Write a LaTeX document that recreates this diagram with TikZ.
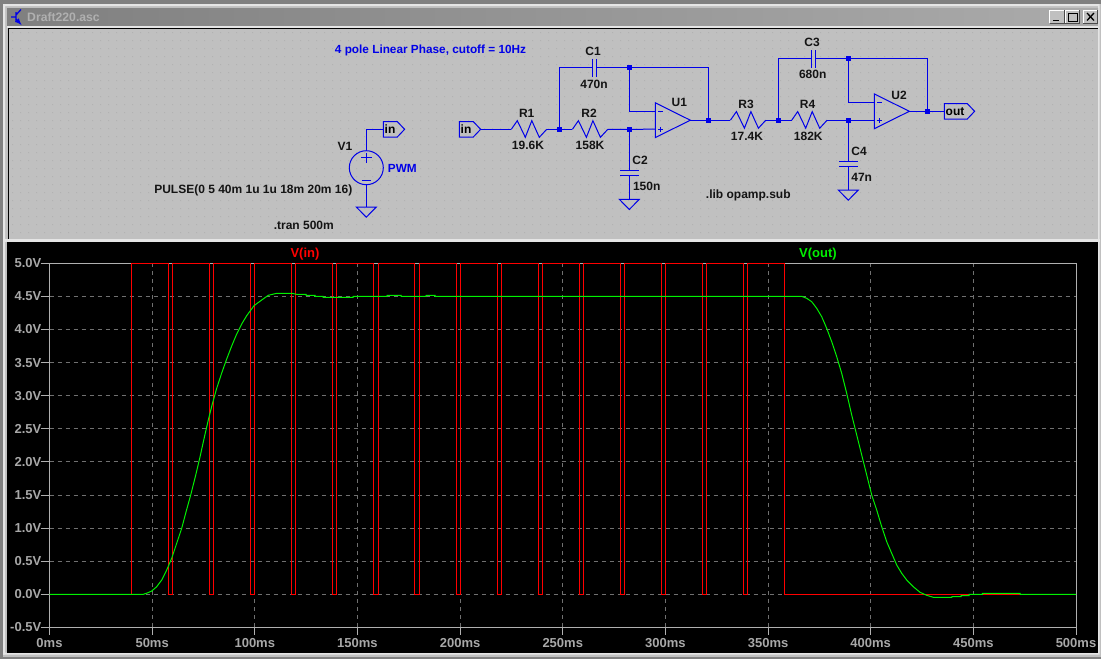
\documentclass[tikz,border=0pt]{standalone}
\usepackage{fontspec}
\setmainfont{Liberation Sans}
\usetikzlibrary{arrows}
\definecolor{wirecol}{HTML}{0000E8}
\definecolor{panel}{HTML}{C0C0C0}
\definecolor{framecol}{HTML}{B0B0B0}
\definecolor{axtext}{HTML}{A8A8A8}
\definecolor{gridcol}{HTML}{707070}
\definecolor{vincol}{HTML}{FF0000}
\definecolor{voutcol}{HTML}{00F000}
\tikzset{
  wire/.style={draw=wirecol,line width=1pt},
  dot/.style={fill=wirecol,draw=none,inner sep=0pt,minimum size=4.6pt},
  lab/.style={font=\fontsize{12}{12}\selectfont\bfseries,text=black!92,inner sep=0pt},
  note/.style={font=\fontsize{11.8}{12}\selectfont\bfseries,text=wirecol,inner sep=0pt},
  axlab/.style={font=\fontsize{13}{13}\selectfont\bfseries,text=axtext,inner sep=0pt},
  gridline/.style={draw=gridcol,line width=1pt,dash pattern=on 4pt off 4pt},
  pics/res/.style={code={
    \coordinate (-l) at (0,0);
    \coordinate (-r) at (35.4,0);
    \draw[wire] (-l) -- (6,-8.6) -- (14,8) -- (20.5,-8.6) -- (28,8) -- (-r);
  }},
  pics/gnd/.style={code={
    \draw[wire] (-10,0) -- (10,0) -- (0,10.2) -- cycle;
  }},
  pics/opamp/.style={code={
    \coordinate (-m) at (0,-9);
    \coordinate (-p) at (0,9);
    \coordinate (-o) at (35,0);
    \draw[wire] (0,-17.4) -- (-o) -- (0,17.4) -- cycle;
    \draw[wire,line width=.7pt] (3,-9) -- (7.5,-9) (3,9) -- (7.5,9) (5.25,6.7) -- (5.25,11.3);
  }},
  pics/flag/.style={code={
    \coordinate (-l) at (0,0);
    \draw[wire] (-l) -- (0,-7.7) -- (#1,-7.7) -- (#1+7.3,0) -- (#1,7.7) -- (0,7.7) -- cycle;
  }},
  pics/cap/.style={code={
    \draw[wire] (-1.9,-8.7) -- (-1.9,9) (2.1,-8.7) -- (2.1,9);
  }},
  pics/winbtn/.style={code={
    \fill[panel] (0,0) rectangle (14.6,13.4);
    \draw[white,line width=1pt] (0,13.4) -- (0,0) -- (14.6,0);
    \draw[black!70,line width=1pt] (0,13.4) -- (14.6,13.4) -- (14.6,0);
  }}
}
\begin{document}
\begin{tikzpicture}[x=1pt,y=-1pt]
  \useasboundingbox (0,0) rectangle (1101,659);
  % window frame
  \fill[panel] (0,0) rectangle (1101,659);
  \fill[black!50] (0,0) rectangle (1101,4);
  \fill[black!50] (0,0) rectangle (3,659);
  \fill[black!50] (0,656.5) rectangle (1101,659);
  \fill[white!90!black] (3,4) rectangle (1098,6) (3,4) rectangle (5,654.5);
  \fill[white!90!black] (1098,4) rectangle (1099.5,654.5) (3,652.7) rectangle (1099.5,654.5);
  \shade[left color=black!50,right color=black!33] (7,8) rectangle (1098,26);
  \fill[white!90!black] (7,26) rectangle (1098,27.7);
  % title bar
  \node[font=\fontsize{12.2}{13}\selectfont\bfseries,text=framecol,anchor=west,inner sep=0pt] (title) at (27,17) {Draft220.asc};
  \draw[wirecol,line width=1.3pt] (11,17) -- (16,17) (16,12) -- (16,22) (16,15) -- (21,9.5);
  \draw[wirecol,line width=1.3pt,-latex] (16,19) -- (21.5,25);
  \pic (btnmin) at (1049.5,10) {winbtn};
  \pic (btnmax) at (1065,10) {winbtn};
  \pic (btnclose) at (1083,10) {winbtn};
  \draw[black,line width=1.3pt] (1053,20.5) -- (1059,20.5);
  \draw[black,line width=1pt] (1068,13.5) rectangle (1077,21);
  \draw[black,line width=1.3pt] (1087,13) -- (1094,20.5) (1094,13) -- (1087,20.5);

  % schematic panel
  \fill[panel] (9,29) rectangle (1098,238.5);
  \fill[black!30] \foreach \x in {12,20,...,1096} { \foreach \y in {32,40,...,236} { (\x,\y) rectangle ++(1,1) } };
  \draw[black,line width=1.4pt] (8.5,238.5) -- (8.5,28.5) -- (1098,28.5);
  \fill[white!90!black] (3,239.3) rectangle (1099.5,241.5);

  \coordinate (jc1) at (559.3,129.3);
  \coordinate (jc1r) at (629.3,67.3);
  \coordinate (jc2) at (629.3,129.3);
  \coordinate (ju1) at (708.3,120.2);
  \coordinate (jc3) at (778.3,120.2);
  \coordinate (jc4) at (848.3,120.2);
  \coordinate (jc3r) at (848.3,58.3);
  \coordinate (ju2) at (927.3,111.3);

  \pic (flagin) at (459.3,129.3) {flag=14};
  \node[lab,text=black] (flagintxt) at (466,129.3) {in};
  \pic (r1) at (511.3,129.3) {res};
  \pic (r2) at (572.4,129.3) {res};
  \pic (r3) at (730.4,120.2) {res};
  \pic (r4) at (791.7,120.2) {res};
  \pic (u1) at (655.3,120.2) {opamp};
  \pic (u2) at (874.3,111.3) {opamp};
  \pic (flagout) at (944.3,111.3) {flag=23};
  \node[lab,text=black] (flagouttxt) at (955,111.5) {out};

  \draw[wire] (flagin-l) ++(21.3,0) -- (r1-l);
  \draw[wire] (r1-r) -- (jc1) -- (r2-l);
  \draw[wire] (r2-r) -- (jc2) -- (u1-p);
  \draw[wire] (jc1) |- (592,67.3) (596,67.3) -- (jc1r);
  \draw[wire] (jc1r) -- (629.3,111.2) -- (u1-m);
  \draw[wire] (jc1r) -| (ju1);
  \draw[wire] (u1-o) -- (ju1) -- (r3-l);
  \draw[wire] (r3-r) -- (jc3) -- (r4-l);
  \draw[wire] (r4-r) -- (jc4) -- (874.3,120.2);
  \draw[wire] (jc3) |- (811.3,58.3) (815.3,58.3) -- (jc3r);
  \draw[wire] (jc3r) -- (848.3,102.3) -- (u2-m);
  \draw[wire] (jc3r) -| (ju2);
  \draw[wire] (u2-o) -- (ju2) -- (flagout-l);

  \pic at (594,67.5) {cap};
  \pic at (813.3,58.7) {cap};
  \foreach \j in {jc1,jc1r,jc2,ju1,jc3,jc4,jc3r,ju2}
    \node[dot] at (\j) {};

  % C2, C4 and the source
  \coordinate (gc2) at (629.3,199.3);
  \coordinate (gc4) at (848.3,190);
  \draw[wire] (jc2) -- (629.3,170.3) (620,170.3) -- (639,170.3) (620,175.3) -- (639,175.3) (629.3,175.3) -- (gc2);
  \draw[wire] (jc4) -- (848.3,161.3) (839,161.3) -- (858,161.3) (839,166.3) -- (858,166.3) (848.3,166.3) -- (gc4);
  \pic at (gc2) {gnd};
  \pic at (gc4) {gnd};

  \node[circle,draw=wirecol,line width=1pt,minimum size=34pt,inner sep=0pt] (v1) at (366.3,167.7) {};
  \pic (flagv) at (383.3,129.3) {flag=14};
  \node[lab,text=black] (flagvtxt) at (390,129.3) {in};
  \coordinate (gv1) at (366.3,207);
  \draw[wire] (v1.north) |- (flagv-l);
  \draw[wire] (v1.south) -- (gv1);
  \pic at (gv1) {gnd};
  \draw[wire,line width=.8pt] (361,157.5) -- (371.5,157.5) (366.3,152.5) -- (366.3,162.5) (361.5,180) -- (371,180);

  \node[note] (titlenote) at (430.5,50.5) {4 pole Linear Phase, cutoff = 10Hz};
  \node[lab] (c1lab) at (593,51) {C1};
  \node[lab] (c1val) at (594,84) {470n};
  \node[lab] (r1lab) at (526.7,113.3) {R1};
  \node[lab] (r1val) at (528,145) {19.6K};
  \node[lab] (r2lab) at (589,113.3) {R2};
  \node[lab] (r2val) at (590,145) {158K};
  \node[lab] (c2lab) at (640,160) {C2};
  \node[lab] (c2val) at (646.7,186.7) {150n};
  \node[lab] (u1lab) at (679.3,102.7) {U1};
  \node[lab] (r3lab) at (746,104) {R3};
  \node[lab] (r3val) at (747,136.7) {17.4K};
  \node[lab] (r4lab) at (807.5,104) {R4};
  \node[lab] (r4val) at (808.3,136.7) {182K};
  \node[lab] (c3lab) at (812,42.7) {C3};
  \node[lab] (c3val) at (812.7,74.3) {680n};
  \node[lab] (c4lab) at (859,151) {C4};
  \node[lab] (c4val) at (861.7,177) {47n};
  \node[lab] (u2lab) at (899,95) {U2};
  \node[lab] (v1lab) at (345,146.7) {V1};
  \node[note] (v1val) at (402.3,168.3) {PWM};
  \node[lab] (pulse) at (253.3,190.7) {PULSE(0 5 40m 1u 1u 18m 20m 16)};
  \node[lab] (tran) at (303.8,225.7) {.tran 500m};
  \node[lab] (lib) at (748.3,195) {.lib opamp.sub};

  % plot
  \fill[black] (7,241.5) rectangle (1097.7,652.7);
  \foreach \v [count=\i from 0] in {4.5,4.0,3.5,3.0,2.5,2.0,1.5,1.0,0.5,0.0}
    \draw[gridline] (49.5,296.4+33.1*\i) -- (1076,296.4+33.1*\i);
  \foreach \t in {1,...,9}
    \draw[gridline] (49.5+102.65*\t,263.3) -- (49.5+102.65*\t,627.4);
  \draw[framecol,line width=1pt] (49.5,263.3) rectangle (1076,627.4);
  \foreach \v [count=\i from 0] in {5.0V,4.5V,4.0V,3.5V,3.0V,2.5V,2.0V,1.5V,1.0V,0.5V,0.0V,-0.5V} {
    \draw[framecol,line width=1pt] (40.7,263.3+33.1*\i) -- (49.5,263.3+33.1*\i);
    \node[axlab,anchor=east] (ylab\i) at (41.5,263.3+33.1*\i) {\v};
  }
  \foreach \v [count=\i from 0] in {0ms,50ms,100ms,150ms,200ms,250ms,300ms,350ms,400ms,450ms,500ms} {
    \draw[framecol,line width=1pt] (49.5+102.65*\i,627.4) -- (49.5+102.65*\i,635);
    \node[axlab] (xlab\i) at (49.5+102.65*\i,643.5) {\v};
  }

  \draw[vincol,line width=1pt,line join=miter] (49.5,594.3) -- (131.6,594.3) -- (131.6,263.3)
    \foreach \k in {0,...,14} {
      -- ({168.6+41.06*\k},263.3) -- ({168.6+41.06*\k},594.3) -- ({172.7+41.06*\k},594.3) -- ({172.7+41.06*\k},263.3)
    } -- (784.5,263.3) -- (784.5,594.3) -- (1076,594.3);

  \draw[voutcol,line width=1pt] (49.5,594.3) -- (143.3,594.3) -- (147.3,593) -- (151.7,591) -- (156.7,586.7)
    -- (161.7,580) -- (166.7,570) -- (171.7,558.3) -- (176.7,543.3) -- (181.7,528.3) -- (186,512)
    -- (190.7,495) -- (195.5,476) -- (200,457) -- (204,438.8) -- (208.3,420) -- (212.3,404)
    -- (216.7,388.3) -- (221.7,373) -- (226.7,359) -- (231.7,346) -- (236.7,334) -- (241.7,324)
    -- (246.7,315.7) -- (254,305.7) -- (261.7,300) -- (268.3,295.3) -- (276.7,293.3) -- (291.7,293.3)
    -- (296.7,294.3) -- (306,294.3) -- (306,295.3) -- (315,295.3) -- (315,296.3) -- (323,296.3)
    -- (323,297.3) -- (353,297.3) -- (353,296.3) -- (387,296.3) -- (387,295.3) -- (401,295.3)
    -- (401,296.3) -- (426,296.3) -- (426,295.3) -- (435,295.3) -- (435,296.3) -- (801.7,296.3)
    -- (806.7,298.3) -- (811.7,301.7) -- (816.7,308.3) -- (821.7,316.7) -- (826.7,328.3) -- (831.7,341.7)
    -- (836.7,356.7) -- (841.7,373.3) -- (846.7,393.3) -- (851.7,415) -- (856.7,435) -- (861.7,455)
    -- (866.7,475) -- (871.7,495) -- (876.7,510) -- (881.7,526.7) -- (886.7,541.7) -- (891.7,553.3)
    -- (896.7,565) -- (901.7,573.3) -- (906.7,580) -- (913.3,586.7) -- (920,592.3) -- (926.7,595.3)
    -- (933.3,597.3) -- (951.7,597.3) -- (952,596.7) -- (961,596.7) -- (961,595.7) -- (969,595.7)
    -- (969,594.3) -- (982.3,594.3) -- (982.3,593.3) -- (1020,593.3) -- (1020,594.3) -- (1076,594.3);

  \node[axlab,text=vincol] (vinlab) at (305,254) {V(in)};
  \node[axlab,text=voutcol] (voutlab) at (818,254) {V(out)};
\end{tikzpicture}
\end{document}
